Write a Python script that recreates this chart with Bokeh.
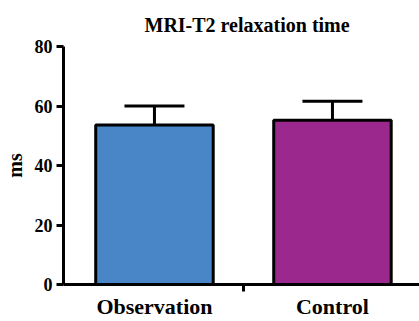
from bokeh.plotting import figure
from bokeh.models import Range1d, FixedTicker, Whisker, ColumnDataSource, TeeHead
from bokeh.embed import file_html
from bokeh.resources import INLINE

categories = ["Observation", "Control"]
means = [53.6, 55.2]
errors = [6.4, 6.4]
colors = ["#4886C7", "#9B288C"]
y_ticks = [0, 20, 40, 60, 80]
title_text = "MRI-T2 relaxation time"
y_label = "ms"

FONT = "Liberation Serif"

xs = [i + 1 for i in range(len(categories))]
mids = [(a + b) / 2 for a, b in zip(xs, xs[1:])]
upper = [m + e for m, e in zip(means, errors)]
src = ColumnDataSource(dict(x=xs, top=means, upper=upper, color=colors))

p = figure(width=419, height=321, output_backend="svg", toolbar_location=None,
           x_range=Range1d(0.489, 2.489), y_range=Range1d(0, 80),
           min_border_left=61, min_border_right=0, min_border_top=45,
           min_border_bottom=37, title=title_text)

p.vbar(x="x", top="top", width=0.66, source=src, fill_color="color",
       line_color="black", line_width=3)

p.add_layout(Whisker(source=src, base="x", lower="top", upper="upper",
                     line_width=3, line_color="black",
                     upper_head=TeeHead(size=60, line_width=3, line_color="black"),
                     lower_head=None))

p.xgrid.visible = False
p.ygrid.visible = False
p.outline_line_color = None
p.background_fill_color = "white"
p.border_fill_color = "white"

# title
p.title.align = "left"
p.title.offset = 81
p.title.standoff = 22
p.title.text_font = FONT
p.title.text_font_style = "bold"
p.title.text_font_size = "20px"
p.title.text_color = "black"

# x axis
xa = p.xaxis[0]
xa.ticker = FixedTicker(ticks=xs, minor_ticks=mids)
xa.major_label_overrides = {x: c for x, c in zip(xs, categories)}
xa.major_tick_in = 0
xa.major_tick_out = 0
xa.minor_tick_in = 0
xa.minor_tick_out = 7
xa.minor_tick_line_width = 3
xa.minor_tick_line_color = "black"
xa.axis_line_width = 3
xa.axis_line_color = "black"
xa.major_label_text_font = FONT
xa.major_label_text_font_style = "bold"
xa.major_label_text_font_size = "22px"
xa.major_label_text_color = "black"
xa.major_label_standoff = 2

# y axis
ya = p.yaxis[0]
ya.ticker = FixedTicker(ticks=y_ticks, minor_ticks=[])
ya.major_tick_in = 0
ya.major_tick_out = 7
ya.major_tick_line_width = 3
ya.major_tick_line_color = "black"
ya.axis_line_width = 3
ya.axis_line_color = "black"
ya.major_label_text_font = FONT
ya.major_label_text_font_style = "bold"
ya.major_label_text_font_size = "18px"
ya.major_label_text_color = "black"
ya.major_label_standoff = 4
ya.axis_label = y_label
ya.axis_label_text_font = FONT
ya.axis_label_text_font_style = "bold"
ya.axis_label_text_font_size = "20px"
ya.axis_label_text_color = "black"
ya.axis_label_standoff = 6

open("out.html", "w").write(file_html(p, INLINE))
